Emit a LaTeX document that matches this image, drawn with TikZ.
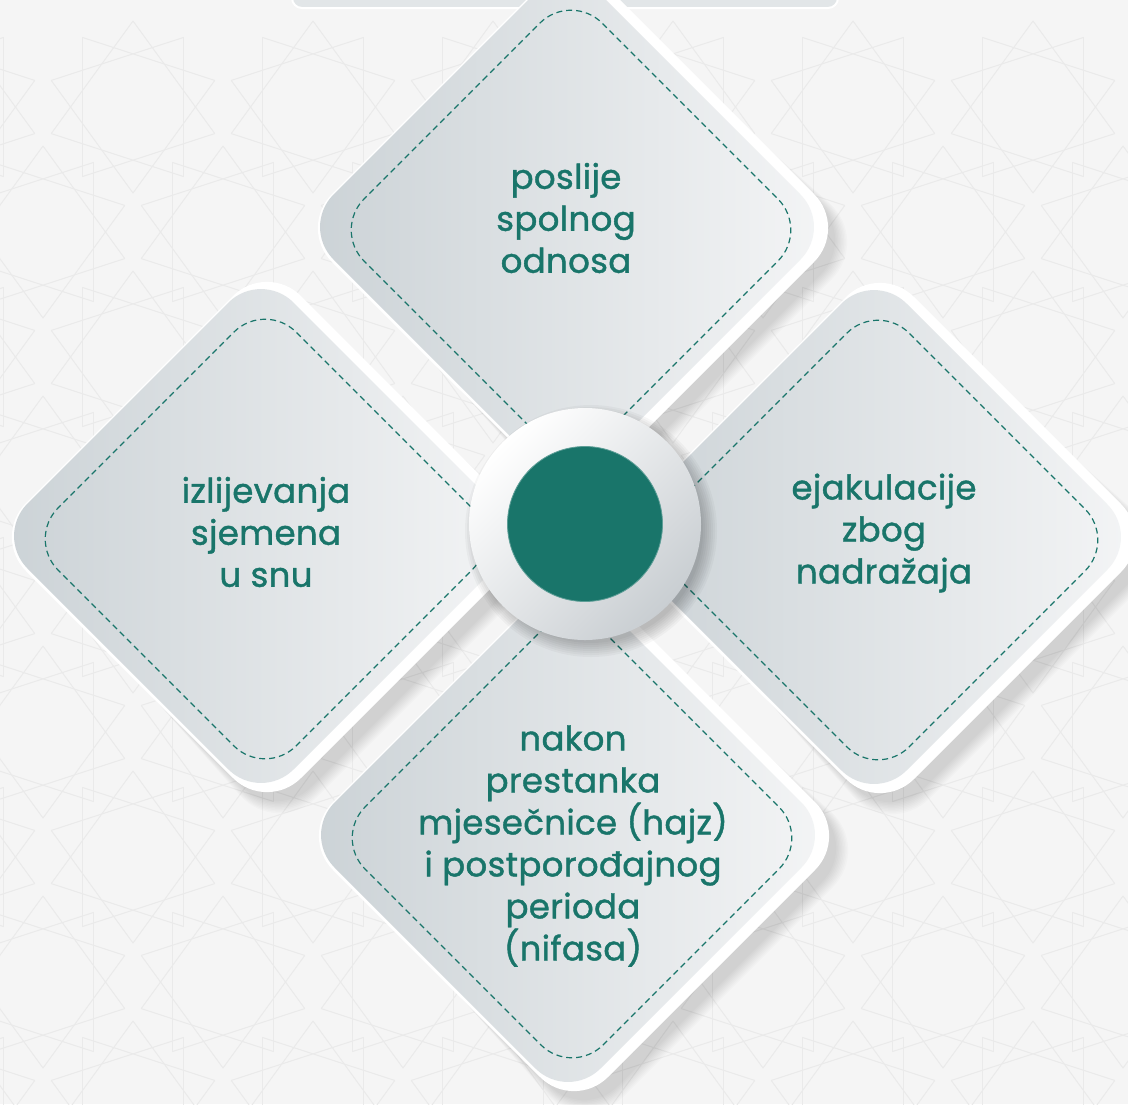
\documentclass[tikz,border=0pt]{standalone}
\usepackage{fontspec}
\setmainfont{Poppins}
\newfontfamily\labelfont{Poppins}[FakeBold=1.2,LetterSpace=1]
\usetikzlibrary{calc}
\definecolor{bgcol}{HTML}{F5F5F5}
\definecolor{patcol}{HTML}{EAEAEA}
\definecolor{brandgreen}{HTML}{19756A}
\definecolor{facedark}{HTML}{CBD2D6}
\definecolor{facelight}{HTML}{F4F5F6}
\definecolor{barcol}{HTML}{E2E6E8}
\definecolor{ringdark}{HTML}{C9CED2}
\newcommand\dpath[3]{({#1-0.5*#3},{#2-0.5*#3}) -- ({#1},{#2-#3}) -- ({#1+#3},{#2}) -- ({#1},{#2+#3}) -- ({#1-#3},{#2}) -- cycle}
\newcommand\tile[2]{%
  \foreach \i in {0,...,8}{
    \fill[black,opacity=0.017,rounded corners={48+\i}] \dpath{#1+10}{#2+12}{272+2*\i};
  }
  \fill[white,rounded corners=48] \dpath{#1}{#2}{275};
  \shade[left color=facedark,right color=facelight,rounded corners=46] \dpath{#1-6}{#2-1}{266};
  \draw[tiledash,rounded corners=44] \dpath{#1-2}{#2+2}{238};
}
\newcommand\decastar[2]{%
  \foreach \k in {0,...,9}{
    \draw[patcol,line width=1pt] ({#1+86*cos(90+36*\k)},{#2+86*sin(90+36*\k)}) -- ({#1+86*cos(90+36*(\k+3))},{#2+86*sin(90+36*(\k+3))});
  }
}
\tikzset{
  tiledash/.style={brandgreen,line width=1.2pt,dash pattern=on 6pt off 4pt},
  label/.style={text=brandgreen,align=center,inner sep=0pt,font=\labelfont\fontsize{34}{42}\selectfont}
}
\begin{document}
\begin{tikzpicture}[x=1pt,y=-1pt]
\useasboundingbox (0,0) rectangle (1128,1104);
\fill[bgcol] (0,0) rectangle (1128,1104);
% faint background pattern
\begin{scope}
\clip (0,0) rectangle (1128,1104);
\foreach \a in {0,...,7}{
  \foreach \b in {0,...,5}{
    \decastar{133+180*(\a-1)}{107+250*(\b)}
    \decastar{223+180*(\a-1)}{232+250*(\b)}
  }
}
\end{scope}
% top bar
\fill[barcol,rounded corners=10,draw=white,line width=2pt] (292,-30) rectangle (838,8);
% tiles
\tile{573}{228}
\tile{267}{537}
\tile{880}{538}
\tile{574}{836}
% centre
\foreach \i in {0,...,7}{
  \fill[black,opacity=0.03] (591,531) circle ({112+2*\i});
}
\shade[shading=axis,top color=white,bottom color=ringdark,shading angle=45] (585,524) circle (116);
\node[circle,fill=brandgreen,draw=brandgreen!70!white,line width=0.8pt,minimum size=155pt,inner sep=0pt] (hub) at (585,524) {};
% labels
\node[label] (t1) at (566,218) {poslije\\spolnog\\odnosa};
\node[label] (t2) at (266,532) {izlijevanja\\sjemena\\u snu};
\node[label] (t3) at (884,533) {ejakulacije\\zbog\\nadražaja};
\node[label] (t4) at (573,846) {nakon\\prestanka\\mjesečnice (hajz)\\i postporođajnog\\perioda\\(nifasa)};
\end{tikzpicture}
\end{document}
